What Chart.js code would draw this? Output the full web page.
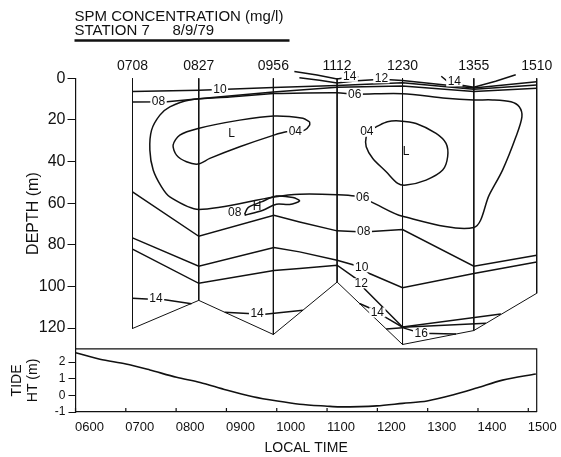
<!DOCTYPE html>
<html lang="en">
<head>
<meta charset="UTF-8">
<title>SPM Concentration - Station 7</title>
<script src="https://cdn.jsdelivr.net/npm/chart.js"></script>
<style>
    body, html {
        margin: 0;
        padding: 0;
        background: #fff;
    }
    canvas {
        display: block;
    }
</style>
</head>
<body>
<canvas id="spmChart" width="561" height="457"></canvas>
<script>
// casts: time (decimal hours), label, bottom depth (m)
const stationTimes = [7.133, 8.45, 9.933, 11.2, 12.5, 13.917, 15.167];
const stationLabels = ['0708', '0827', '0956', '1112', '1230', '1355', '1510'];
const stationBottoms = [120.2, 106.7, 123.1, 97.9, 127.9, 121.2, 103.3];

// tide height (m)
const tideHours = [6.0, 6.486, 7.002, 7.478, 8.008, 8.478, 9.0, 9.528, 10.012, 10.454, 11.004, 11.248, 11.988, 12.504, 12.988, 13.496, 13.992, 14.488, 15.15];
const tideHeights = [2.57, 2.17, 1.89, 1.53, 1.09, 0.78, 0.32, -0.08, -0.34, -0.53, -0.65, -0.69, -0.63, -0.48, -0.34, 0.02, 0.46, 0.92, 1.29];

// contour lines, [hour, depth]
const c10Top = [[7.133, 6.4], [8.45, 5.7], [8.87, 5.4], [9.933, 4.4], [11.2, 3.5], [12.5, 2.1], [13.917, 5.3], [15.167, 3.2]];
const c08Top = [[7.133, 11.4], [7.82, 11.3], [8.45, 9.8], [9.933, 6.6], [11.2, 4.3], [12.5, 3.7], [13.917, 6.4], [15.167, 4.8]];
const c12Top = [[10.45, -0.3], [10.85, 0.9], [11.2, 2.3], [11.6, 1.2], [12.08, 0.4], [12.5, 1.0], [13.917, 4.6], [15.167, 1.6]];
const c14TopL = [[10.35, -3.3], [10.8, -1.6], [11.2, 0.3], [11.45, -0.6], [11.62, -0.8]];
const c14TopR = [[13.27, -1.0], [13.38, 1.2], [13.53, 1.8], [13.68, 3.3], [13.917, 4.3], [14.35, 1.4], [14.75, -1.7]];
const c06 = [[9.933, 7.3], [11.2, 7.0], [11.55, 7.6], [12.5, 7.4], [13.365, 9.6], [13.917, 10.4], [14.29, 10.4], [14.655, 11.3],
    [14.82, 13.7], [14.873, 18.5], [14.754, 28.1], [14.488, 44.1], [14.224, 56.0], [13.917, 71.7], [12.5, 66.3], [11.877, 59.4],
    [11.55, 56.6], [11.2, 55.9], [10.454, 55.7], [9.944, 57.0], [8.45, 63.0], [7.875, 57.0], [7.71, 52.2], [7.544, 44.1],
    [7.478, 34.5], [7.512, 24.9], [7.677, 17.7], [7.875, 13.7], [8.272, 10.4], [9.065, 9.0], [9.933, 7.3]];
const c04Left = [[10.653, 20.9], [10.52, 19.2], [9.944, 18.1], [9.264, 20.1], [8.437, 24.1], [8.073, 27.3], [7.94, 32.1], [8.008, 36.9],
    [8.206, 40.1], [8.437, 41.2], [8.669, 38.5], [9.264, 32.9], [9.944, 27.3], [10.19, 25.7], [10.37, 25.7], [10.554, 24.9],
    [10.653, 22.5], [10.653, 20.9]];
const c04Right = [[11.976, 23.3], [12.2, 20.9], [12.438, 20.5], [12.77, 21.7], [13.167, 26.5], [13.365, 31.3], [13.397, 37.7],
    [13.298, 44.1], [12.968, 48.9], [12.571, 51.3], [12.405, 50.5], [12.175, 44.9], [11.909, 38.5], [11.778, 32.9],
    [11.778, 28.1], [11.85, 25.2], [11.976, 23.3]];
const c08Loop = [[9.362, 65.4], [9.43, 62.1], [9.694, 59.4], [9.992, 56.6], [10.321, 57.3], [10.454, 58.9], [10.256, 60.6],
    [9.992, 60.5], [9.726, 63.4], [9.362, 65.8]];
const c08Mid = [[7.133, 54.6], [8.45, 75.9], [9.944, 65.8], [10.454, 69.0], [11.2, 73.3], [11.73, 73.9], [12.5, 72.7], [13.917, 90.3], [15.167, 85.0]];
const c10Mid = [[7.133, 76.7], [8.45, 90.3], [9.944, 81.3], [10.454, 83.4], [11.2, 87.4], [11.69, 90.8], [11.843, 93.8], [12.5, 100.6], [13.917, 93.8], [15.167, 88.3]];
const c12Mid = [[7.133, 82.1], [8.45, 98.5], [9.944, 92.3], [10.454, 91.4], [11.2, 89.8], [11.68, 98.0], [11.744, 101.1], [12.5, 119.5], [14.456, 113.3]];
const c14Left = [[7.133, 105.7], [7.6, 106.3], [7.776, 106.4], [8.306, 108.3]];
const c14Mid = [[8.966, 112.4], [9.61, 113.2], [9.76, 113.4], [10.52, 111.4]];
const c14Right = [[11.645, 108.2], [11.88, 110.7], [12.0, 112.5], [12.2, 115.4], [12.5, 119.6], [14.159, 117.7]];
const c16 = [[12.175, 120.4], [12.5, 119.8], [12.87, 122.5], [13.563, 122.9]];

// contour labels
const labelText = ['10', '08', '04', 'L', '04', 'L', '06', '12', '14', '14', '06', '08', 'H', '08', '10', '12', '14', '14', '14', '16'];
const labelHours = [8.87, 7.65, 10.37, 9.1, 11.79, 12.57, 11.55, 12.08, 11.45, 13.53, 11.71, 9.165, 9.607, 11.73, 11.69, 11.68, 7.6, 9.61, 12.0, 12.87];
const labelDepths = [5.4, 11.4, 25.7, 26.8, 25.7, 35.2, 7.8, 0.0, -0.7, 1.5, 57.6, 64.8, 61.6, 73.8, 90.8, 98.5, 105.9, 113.1, 112.5, 122.8];

const FONT = '"Liberation Sans", Arial, sans-serif';
const INK = '#111';

function line(points, tension, width) {
    return {
        data: points.map(p => ({x: p[0], y: p[1]})),
        borderColor: INK,
        borderWidth: width || 1.5,
        pointRadius: 0,
        tension: tension || 0,
        clip: false,
        xAxisID: 'x',
        yAxisID: 'y'
    };
}

const datasets = [];
// station casts
stationTimes.forEach((t, i) => {
    datasets.push(line([[t, 0], [t, stationBottoms[i]]], 0, 1));
});
// bottom
datasets.push(line(stationTimes.map((t, i) => [t, stationBottoms[i]]), 0, 1));
// contours
[c10Top, c08Top, c12Top, c14TopL, c14TopR, c08Mid, c10Mid, c12Mid, c14Left, c14Mid, c14Right, c16].forEach(c => datasets.push(line(c, 0)));
[c06, c04Left, c04Right, c08Loop].forEach(c => datasets.push(line(c, 0.3)));
// tide
datasets.push({
    data: tideHours.map((h, i) => ({x: h, y: tideHeights[i]})),
    borderColor: INK,
    borderWidth: 1.6,
    pointRadius: 0,
    tension: 0.3,
    xAxisID: 'x',
    yAxisID: 'yt'
});

const inkPlugin = {
    id: 'ink',
    afterDatasetsDraw(chart) {
        const {ctx, scales: {x, y}} = chart;
        ctx.save();
        ctx.font = '12px ' + FONT;
        ctx.textAlign = 'center';
        ctx.textBaseline = 'middle';
        labelText.forEach((t, i) => {
            const px = x.getPixelForValue(labelHours[i]);
            const py = y.getPixelForValue(labelDepths[i]);
            if (t !== 'L' && t !== 'H') {
                const w = ctx.measureText(t).width + 3;
                ctx.fillStyle = '#fff';
                ctx.fillRect(px - w / 2, py - 5, w, 10);
            }
            ctx.fillStyle = INK;
            ctx.fillText(t, px, py);
        });
        ctx.restore();
    },
    afterDraw(chart) {
        const {ctx, chartArea, scales: {x, yt}} = chart;
        ctx.save();
        ctx.strokeStyle = INK;
        ctx.lineWidth = 1.2;
        // tide panel frame
        ctx.beginPath();
        ctx.moveTo(x.left, yt.top);
        ctx.lineTo(x.right, yt.top);
        ctx.lineTo(x.right, yt.bottom);
        // inward ticks on time axis
        x.ticks.forEach(t => {
            const px = x.getPixelForValue(t.value);
            ctx.moveTo(px, x.top);
            ctx.lineTo(px, x.top - 4);
        });
        ctx.stroke();
        // heading
        ctx.fillStyle = INK;
        ctx.font = '15px ' + FONT;
        ctx.textAlign = 'left';
        ctx.textBaseline = 'alphabetic';
        const lx = chartArea.left - 1;
        ctx.fillText('SPM CONCENTRATION (mg/l)', lx, 21);
        ctx.fillText('STATION 7', lx, 35);
        ctx.fillText('8/9/79', lx + 98, 35);
        ctx.lineWidth = 2.5;
        ctx.beginPath();
        ctx.moveTo(lx, 40.5);
        ctx.lineTo(lx + 215, 40.5);
        ctx.stroke();
        ctx.restore();
    }
};

const spmChart = new Chart(document.getElementById('spmChart'), {
    type: 'line',
    data: {datasets: datasets},
    plugins: [inkPlugin],
    options: {
        responsive: false,
        animation: false,
        events: [],
        layout: {padding: {left: 0, right: 24.3, top: 0, bottom: 0}},
        plugins: {legend: {display: false}, tooltip: {enabled: false}},
        scales: {
            x: {
                type: 'linear',
                position: 'bottom',
                min: 6,
                max: 15.167,
                afterFit: s => { s.height = 45; },
                border: {color: INK, width: 1.2},
                grid: {display: true, drawOnChartArea: false, drawTicks: false},
                ticks: {
                    stepSize: 1,
                    includeBounds: false,
                    autoSkip: false,
                    maxRotation: 0,
                    labelOffset: 14,
                    padding: 8,
                    color: INK,
                    font: {family: FONT, size: 13},
                    callback: v => (v < 10 ? '0' : '') + Math.round(v * 100)
                },
                title: {display: true, text: 'LOCAL TIME', color: INK, font: {family: FONT, size: 14}, padding: {top: 0, bottom: 0}}
            },
            xs: {
                type: 'linear',
                position: 'top',
                min: 6,
                max: 15.167,
                afterFit: s => { s.height = 78.3; },
                afterBuildTicks: s => { s.ticks = stationTimes.map(v => ({value: v})); },
                border: {display: false},
                grid: {display: false, drawTicks: false},
                ticks: {
                    autoSkip: false,
                    maxRotation: 0,
                    padding: 4,
                    color: INK,
                    font: {family: FONT, size: 14},
                    callback: (v, i) => stationLabels[i]
                }
            },
            yt: {
                type: 'linear',
                position: 'left',
                stack: 'left',
                stackWeight: 63,
                min: -1,
                max: 2.8,
                afterFit: s => { s.width = 75.5; },
                border: {color: INK, width: 1.2},
                grid: {drawOnChartArea: false, tickLength: 7, color: INK},
                ticks: {stepSize: 1, includeBounds: false, autoSkip: false, padding: 3, color: INK, font: {family: FONT, size: 12}},
                title: {display: true, text: ['TIDE', 'HT (m)'], color: INK, font: {family: FONT, size: 14, lineHeight: 1.15}, padding: {top: 9, bottom: 0}}
            },
            y: {
                type: 'linear',
                position: 'left',
                stack: 'left',
                stackWeight: 270,
                reverse: true,
                min: 0,
                max: 130,
                afterFit: s => { s.width = 75.5; },
                border: {color: INK, width: 1.2},
                grid: {drawOnChartArea: false, tickLength: 8, color: INK},
                ticks: {stepSize: 20, includeBounds: false, autoSkip: false, padding: 2, color: INK, font: {family: FONT, size: 16}},
                title: {display: true, text: 'DEPTH (m)', color: INK, font: {family: FONT, size: 16}, padding: {top: 24, bottom: 0}}
            }
        }
    }
});
</script>
</body>
</html>
